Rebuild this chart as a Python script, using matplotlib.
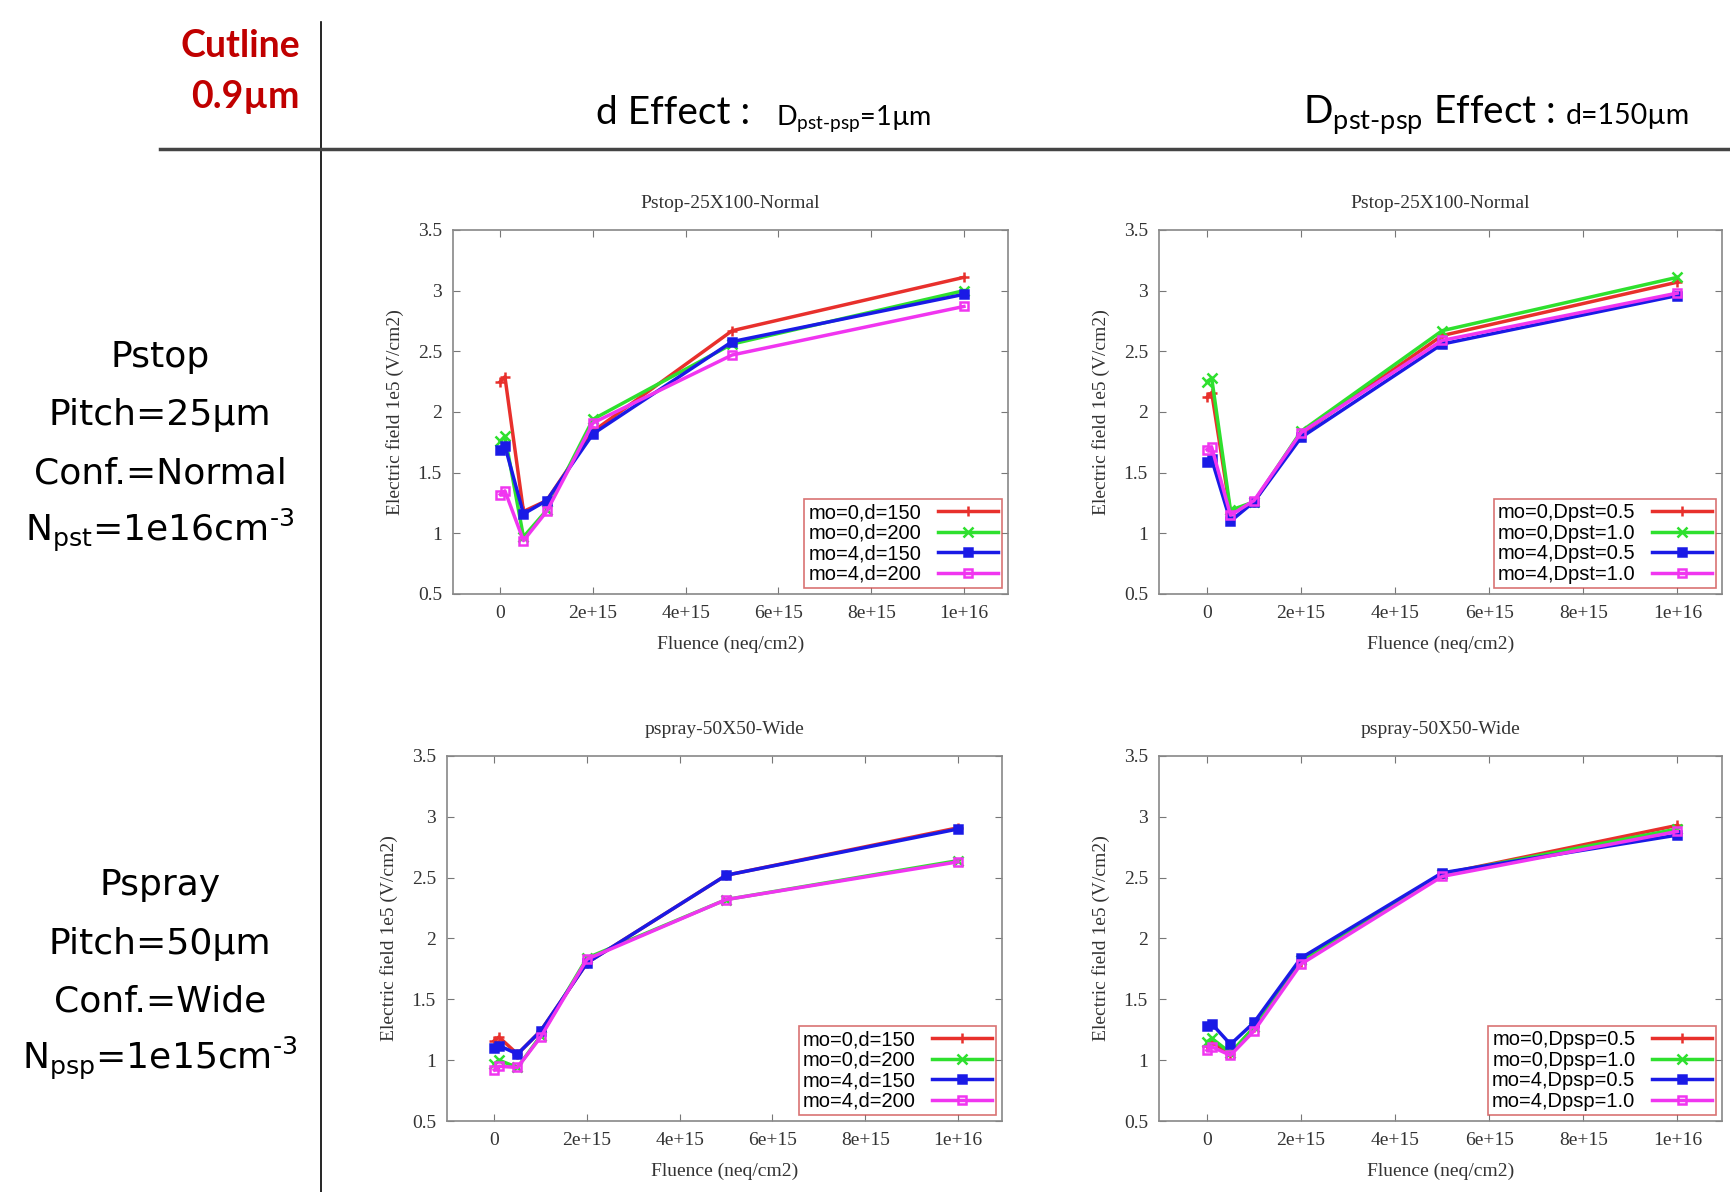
import numpy as np
import matplotlib
matplotlib.use("Agg")
import matplotlib.pyplot as plt
from matplotlib.ticker import FixedLocator, FixedFormatter

# fluence points (neq/cm2)
fluence = [0, 1e14, 5e14, 1e15, 2e15, 5e15, 1e16]

# Pstop, d effect
pstop_d_labels = ["mo=0,d=150", "mo=0,d=200", "mo=4,d=150", "mo=4,d=200"]
pstop_d_mo0_150 = [2.25, 2.29, 1.18, 1.27, 1.84, 2.67, 3.11]
pstop_d_mo0_200 = [1.76, 1.80, 0.97, 1.19, 1.94, 2.56, 3.00]
pstop_d_mo4_150 = [1.69, 1.72, 1.16, 1.27, 1.82, 2.58, 2.97]
pstop_d_mo4_200 = [1.32, 1.35, 0.94, 1.18, 1.91, 2.47, 2.87]

# Pstop, Dpst effect
pstop_D_labels = ["mo=0,Dpst=0.5", "mo=0,Dpst=1.0", "mo=4,Dpst=0.5", "mo=4,Dpst=1.0"]
pstop_D_mo0_05 = [2.12, 2.16, 1.17, 1.26, 1.82, 2.63, 3.07]
pstop_D_mo0_10 = [2.25, 2.28, 1.19, 1.26, 1.84, 2.67, 3.11]
pstop_D_mo4_05 = [1.59, 1.61, 1.10, 1.26, 1.79, 2.56, 2.96]
pstop_D_mo4_10 = [1.69, 1.71, 1.15, 1.27, 1.83, 2.59, 2.98]

# Pspray, d effect
pspray_d_labels = ["mo=0,d=150", "mo=0,d=200", "mo=4,d=150", "mo=4,d=200"]
pspray_d_mo0_150 = [1.16, 1.19, 1.05, 1.24, 1.80, 2.52, 2.91]
pspray_d_mo0_200 = [0.97, 1.00, 0.94, 1.20, 1.84, 2.32, 2.64]
pspray_d_mo4_150 = [1.10, 1.12, 1.05, 1.24, 1.80, 2.52, 2.90]
pspray_d_mo4_200 = [0.92, 0.95, 0.94, 1.19, 1.83, 2.32, 2.63]

# Pspray, Dpsp effect
pspray_D_labels = ["mo=0,Dpsp=0.5", "mo=0,Dpsp=1.0", "mo=4,Dpsp=0.5", "mo=4,Dpsp=1.0"]
pspray_D_mo0_05 = [1.12, 1.15, 1.05, 1.27, 1.81, 2.53, 2.93]
pspray_D_mo0_10 = [1.15, 1.18, 1.06, 1.27, 1.82, 2.53, 2.90]
pspray_D_mo4_05 = [1.28, 1.30, 1.13, 1.31, 1.84, 2.54, 2.85]
pspray_D_mo4_10 = [1.08, 1.11, 1.04, 1.24, 1.79, 2.51, 2.88]

x_ticks = [0, 2e15, 4e15, 6e15, 8e15, 1e16]
x_tick_labels = ["0", "2e+15", "4e+15", "6e+15", "8e+15", "1e+16"]
y_ticks = [0.5, 1, 1.5, 2, 2.5, 3, 3.5]
y_tick_labels = ["0.5", "1", "1.5", "2", "2.5", "3", "3.5"]

colors = ["#e8302c", "#2ee02e", "#1a1ae6", "#f035f0"]
markers = ["+", "x", "s", "s"]

W, H = 1731, 1192
fig = plt.figure(figsize=(W / 100, H / 100), dpi=100)


def box(l, t, r, b):
    return [l / W, 1 - b / H, (r - l) / W, (b - t) / H]


def panel(rect, title, labels, series):
    ax = fig.add_axes(box(*rect))
    for i, (lab, y) in enumerate(zip(labels, series)):
        mfc = "none" if i == 3 else colors[i]
        ax.plot(fluence, y, color=colors[i], lw=2.5, marker=markers[i],
                ms=7 if i < 2 else 6, mew=1.8, mfc=mfc, label=lab)
    ax.set_xlim(-1.02e15, 1.095e16)
    ax.set_ylim(0.5, 3.5)
    ax.xaxis.set_major_locator(FixedLocator(x_ticks))
    ax.xaxis.set_major_formatter(FixedFormatter(x_tick_labels))
    ax.yaxis.set_major_locator(FixedLocator(y_ticks))
    ax.yaxis.set_major_formatter(FixedFormatter(y_tick_labels))
    ax.tick_params(direction="in", top=True, right=True, length=5,
                   color="#777777", labelsize=14, pad=8, labelcolor="#333333")
    for lab in ax.get_xticklabels() + ax.get_yticklabels():
        lab.set_family("Liberation Serif")
    for s in ax.spines.values():
        s.set_color("#888888")
        s.set_linewidth(1.2)
    ax.set_title(title, family="Liberation Serif", fontsize=14, color="#333333", pad=16)
    ax.set_xlabel("Fluence (neq/cm2)", family="Liberation Serif", fontsize=14,
                  color="#333333", labelpad=10)
    ax.set_ylabel("Electric field 1e5 (V/cm2)", family="Liberation Serif", fontsize=14,
                  color="#333333", labelpad=10)
    leg = ax.legend(loc="lower right", markerfirst=False, fancybox=False,
                    prop={"family": "Liberation Sans", "size": 14.5},
                    handlelength=3.0, labelspacing=0.08, borderpad=0.2,
                    handletextpad=0.8, borderaxespad=0.3)
    leg.get_frame().set_edgecolor("#d05050")
    leg.get_frame().set_linewidth(1.2)
    return ax


panel((453, 230, 1008, 594), "Pstop-25X100-Normal", pstop_d_labels,
      [pstop_d_mo0_150, pstop_d_mo0_200, pstop_d_mo4_150, pstop_d_mo4_200])
panel((1159, 230, 1722, 594), "Pstop-25X100-Normal", pstop_D_labels,
      [pstop_D_mo0_05, pstop_D_mo0_10, pstop_D_mo4_05, pstop_D_mo4_10])
panel((447, 756, 1002, 1121), "pspray-50X50-Wide", pspray_d_labels,
      [pspray_d_mo0_150, pspray_d_mo0_200, pspray_d_mo4_150, pspray_d_mo4_200])
panel((1159, 756, 1722, 1121), "pspray-50X50-Wide", pspray_D_labels,
      [pspray_D_mo0_05, pspray_D_mo0_10, pspray_D_mo4_05, pspray_D_mo4_10])

# table lines
fig.add_artist(plt.Line2D([321 / W, 321 / W], [1 - 22 / H, 0], color="black", lw=1.2))
fig.add_artist(plt.Line2D([160 / W, 1], [1 - 149 / H, 1 - 149 / H], color="#444444", lw=2.5))

# corner label
fig.text(300 / W, 1 - 46 / H, "Cutline", ha="right", va="center", family="Lato",
         weight="bold", fontsize=27, color="#c00000")
fig.text(300 / W, 1 - 97 / H, "0.9µm", ha="right", va="center", family="Lato",
         weight="bold", fontsize=27, color="#c00000")

# column headers
fig.text(596 / W, 1 - 124 / H, "d Effect :", ha="left", va="baseline",
         family="Lato", fontsize=28)
fig.text(776 / W, 1 - 124 / H,
         r"D$_\mathregular{pst‐psp}$=1µm", ha="left", va="baseline",
         family="Lato", fontsize=19.5)
fig.text(1303 / W, 1 - 124 / H,
         r"D$_\mathregular{pst‐psp}$ Effect :", ha="left", va="baseline",
         family="Lato", fontsize=28)
fig.text(1566 / W, 1 - 124 / H, "d=150µm", ha="left", va="baseline",
         family="Lato", fontsize=20.5)

# row headers
row1 = ["Pstop", "Pitch=25µm", "Conf.=Normal", r"N$_\mathregular{pst}$=1e16cm$^\mathregular{‐3}$"]
row2 = ["Pspray", "Pitch=50µm", "Conf.=Wide", r"N$_\mathregular{psp}$=1e15cm$^\mathregular{‐3}$"]
for y, s in zip([357, 415, 473, 530], row1):
    fig.text(160 / W, 1 - y / H, s, ha="center", va="center", family="DejaVu Sans", fontsize=26)
for y, s in zip([885, 944, 1001, 1058], row2):
    fig.text(160 / W, 1 - y / H, s, ha="center", va="center", family="DejaVu Sans", fontsize=26)

fig.savefig("out.png", dpi=100, facecolor="white")
